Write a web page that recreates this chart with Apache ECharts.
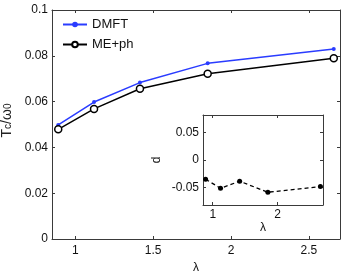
<!DOCTYPE html>
<html><head><meta charset="utf-8">
<script src="https://cdn.jsdelivr.net/npm/echarts@6/dist/echarts.min.js"></script>
<style>html,body{margin:0;padding:0;background:#fff}#c{width:349px;height:271px}</style>
</head><body><div id="c"></div>
<script>
var lambda = [0.89, 1.12, 1.415, 1.85, 2.66];
var dmft = [0.0498, 0.0598, 0.0683, 0.0767, 0.0830];
var meph = [0.0479, 0.0568, 0.0656, 0.0722, 0.0789];
var dval = [-0.035, -0.0515, -0.0387, -0.0587, -0.0485];
var mainXTicks = [1, 1.5, 2, 2.5];
var mainYTicks = [0, 0.02, 0.04, 0.06, 0.08, 0.1];
var insetXTicks = [1, 2];
var insetYTicks = [-0.05, 0, 0.05];
var seriesNames = ['DMFT', 'ME+ph'];

function pairs(x, y){ return x.map(function(v,i){return [v, y[i]];}); }
var font = 'Liberation Sans, Arial, sans-serif';
var axCol = '#3a3a3a';
function fmt(v){ return String(v); }

function xAx(grid, pos, ticks, show, margin, extra){
  var o = {type:'value', gridIndex:grid, position:pos, min:0.85, max:2.7,
    axisLine:{show:true, onZero:false, lineStyle:{color:axCol, width:1}},
    axisTick:{show:true, inside:true, length:3, customValues:ticks, lineStyle:{color:axCol}},
    axisLabel:{show:show, customValues:ticks, formatter:fmt, color:'#111', fontSize:12, fontFamily:font, margin:margin},
    splitLine:{show:false}};
  return Object.assign(o, extra||{});
}
function yAx(grid, pos, ticks, min, max, show, extra){
  var o = {type:'value', gridIndex:grid, position:pos, min:min, max:max,
    axisLine:{show:true, onZero:false, lineStyle:{color:axCol, width:1}},
    axisTick:{show:true, inside:true, length:3, customValues:ticks, lineStyle:{color:axCol}},
    axisLabel:{show:show, customValues:ticks, formatter:fmt, color:'#111', fontSize:12, fontFamily:font, margin:4},
    splitLine:{show:false}};
  return Object.assign(o, extra||{});
}

var chart = echarts.init(document.getElementById('c'), null, {renderer:'canvas'});
chart.setOption({
  animation:false,
  backgroundColor:'#fff',
  grid:[
    {left:52, top:10, width:288, height:229, outerBoundsMode:'none', containLabel:false},
    {left:203, top:115, width:120, height:90, outerBoundsMode:'none', containLabel:false,
      show:true, backgroundColor:'#fff', borderWidth:0, z:5}
  ],
  legend:{orient:'vertical', left:57, top:13, itemWidth:24, itemHeight:7, itemGap:7,
    data:seriesNames, textStyle:{fontSize:13, fontFamily:font, color:'#111'}},
  xAxis:[
    xAx(0,'bottom',mainXTicks,true,6,{name:'λ', nameLocation:'middle', nameGap:19,
      nameTextStyle:{fontSize:12, fontFamily:font, color:'#111'}}),
    xAx(0,'top',mainXTicks,false,4),
    xAx(1,'bottom',insetXTicks,true,4,{name:'λ', nameLocation:'middle', nameGap:16, z:6,
      nameTextStyle:{fontSize:12, fontFamily:font, color:'#111'}}),
    xAx(1,'top',insetXTicks,false,4,{z:6})
  ],
  yAxis:[
    yAx(0,'left',mainYTicks,0,0.1,true,{name:'{a|T}{s|c}{a|/ω}{s|0}', nameLocation:'middle', nameGap:36, nameRotate:90,
      nameTextStyle:{fontSize:14, fontFamily:font, fontWeight:'normal', color:'#222', padding:[0,0,0,8],
        rich:{a:{fontSize:14, fontFamily:font, fontWeight:'normal', color:'#222', verticalAlign:'bottom', lineHeight:17},
              s:{fontSize:10, fontFamily:font, fontWeight:'normal', color:'#222', verticalAlign:'bottom', lineHeight:11}}}}),
    yAx(0,'right',mainYTicks,0,0.1,false),
    yAx(1,'left',insetYTicks,-0.082,0.082,true,{name:'d', nameLocation:'middle', nameGap:40, nameRotate:90, z:6,
      nameTextStyle:{fontSize:12, fontFamily:font, color:'#111'}}),
    yAx(1,'right',insetYTicks,-0.082,0.082,false,{z:6})
  ],
  series:[
    {name:seriesNames[0], type:'line', xAxisIndex:0, yAxisIndex:0, data:pairs(lambda,dmft),
      symbol:'circle', symbolSize:4, color:'#2a3cff',
      lineStyle:{width:1.5, color:'#2a3cff'}, itemStyle:{color:'#2a3cff'}},
    {name:seriesNames[1], type:'line', xAxisIndex:0, yAxisIndex:0, data:pairs(lambda,meph),
      symbol:'circle', symbolSize:7, color:'#000',
      lineStyle:{width:1.5, color:'#000'}, itemStyle:{color:'#fff', borderColor:'#000', borderWidth:1.5}},
    {name:'d', type:'line', xAxisIndex:2, yAxisIndex:2, data:pairs(lambda,dval), z:7,
      symbol:'circle', symbolSize:5, color:'#000',
      lineStyle:{width:1.3, color:'#000', type:[4,3]}, itemStyle:{color:'#000'}}
  ]
});
</script></body></html>
